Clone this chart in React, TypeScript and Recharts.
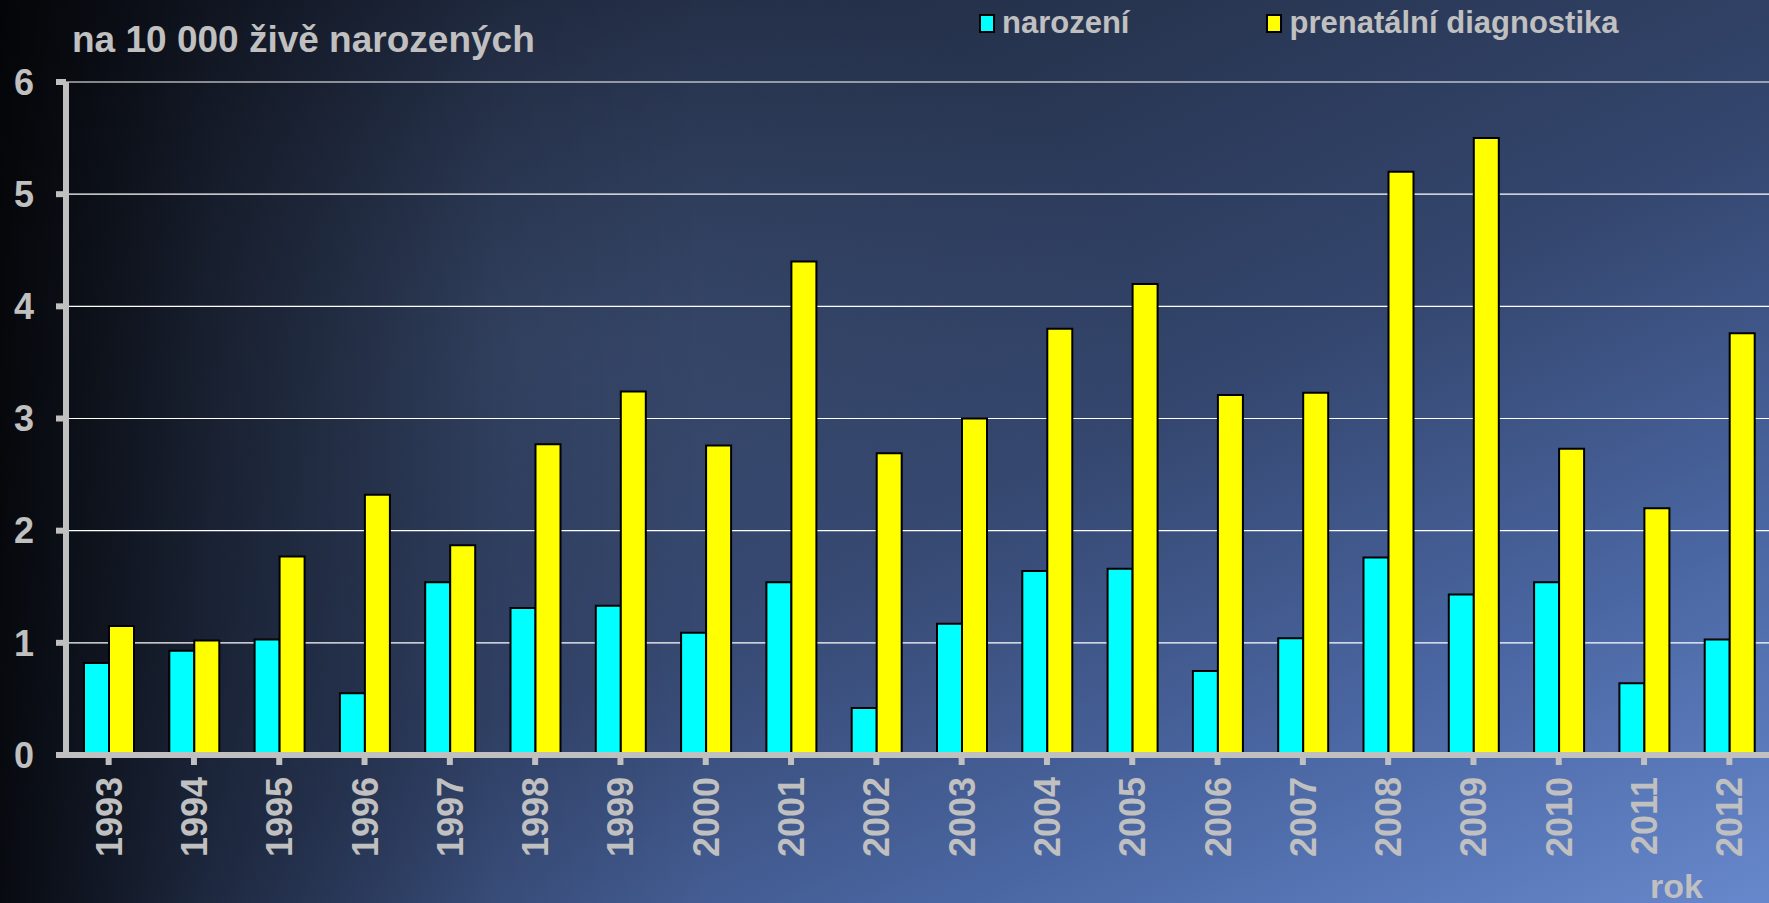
import React from 'react';
import { BarChart, Bar, XAxis, YAxis, CartesianGrid } from 'recharts';

const years = [
  '1993', '1994', '1995', '1996', '1997', '1998', '1999', '2000', '2001', '2002',
  '2003', '2004', '2005', '2006', '2007', '2008', '2009', '2010', '2011', '2012',
];
const narozeni = [
  0.82, 0.93, 1.03, 0.55, 1.54, 1.31, 1.33, 1.09, 1.54, 0.42,
  1.17, 1.64, 1.66, 0.75, 1.04, 1.76, 1.43, 1.54, 0.64, 1.03,
];
const prenatalni = [
  1.15, 1.02, 1.77, 2.32, 1.87, 2.77, 3.24, 2.76, 4.40, 2.69,
  3.00, 3.80, 4.20, 3.21, 3.23, 5.20, 5.50, 2.73, 2.20, 3.76,
];
const yTicks = [0, 1, 2, 3, 4, 5, 6];

const data = years.map((rok, i) => ({
  rok,
  narozeni: narozeni[i],
  prenatalni: prenatalni[i],
}));

const GREY = '#c0c0c0';
const FONT = '"Liberation Sans", Arial, sans-serif';

const YearTick = (props: any) => {
  const { x, y, payload } = props;
  return (
    <text
      x={x}
      y={y}
      dy="0.36em"
      transform={`rotate(-90, ${x}, ${y})`}
      textAnchor="end"
      fill={GREY}
      fontSize={36}
      fontWeight="bold"
      fontFamily={FONT}
    >
      {payload.value}
    </text>
  );
};

const App: React.FC = () => {
  return (
    <div
      style={{
        position: 'fixed',
        left: 0,
        top: 0,
        width: 1769,
        height: 903,
        overflow: 'hidden',
        fontFamily: FONT,
        background:
          'linear-gradient(to right, rgba(0,0,0,0.85) 0%, rgba(0,0,0,0.45) 12%, rgba(0,0,0,0.1) 28%, rgba(0,0,0,0) 40%),' +
          'radial-gradient(ellipse 35% 45% at 30% 38%, rgba(70,90,130,0.45) 0%, rgba(70,90,130,0) 100%),' +
          'linear-gradient(155deg, #1a2134 0%, #27344f 30%, #34466e 55%, #4a66a2 78%, #6788cc 100%)',
      }}
    >
      <div
        style={{
          position: 'absolute',
          left: 72,
          top: 18,
          color: GREY,
          fontSize: 37,
          fontWeight: 'bold',
          lineHeight: '44px',
        }}
      >
        na 10 000 živě narozených
      </div>
      <div style={{ position: 'absolute', left: 979, top: 5, display: 'flex', alignItems: 'center', color: GREY, fontSize: 31, fontWeight: 'bold', lineHeight: '36px' }}>
        <span style={{ width: 12, height: 15, background: '#00ffff', border: '2px solid #000', marginRight: 7 }} />
        <span>narození</span>
        <span style={{ width: 12, height: 15, background: '#ffff00', border: '2px solid #000', marginLeft: 137, marginRight: 7 }} />
        <span>prenatální diagnostika</span>
      </div>
      <div
        style={{
          position: 'absolute',
          left: 1650,
          top: 866,
          color: GREY,
          fontSize: 34,
          fontWeight: 'bold',
          lineHeight: '40px',
        }}
      >
        rok
      </div>
      <div style={{ position: 'absolute', left: 0, top: 0 }}>
        <BarChart
          width={1772}
          height={903}
          data={data}
          margin={{ top: 82, right: 0, bottom: 0, left: 0 }}
          barGap={0}
          barCategoryGap={18}
        >
          <CartesianGrid vertical={false} stroke="#ffffff" strokeWidth={1.2} />
          <XAxis
            dataKey="rok"
            height={148}
            axisLine={{ stroke: GREY, strokeWidth: 6 }}
            tickLine={{ stroke: GREY, strokeWidth: 6 }}
            tickSize={10}
            tick={<YearTick />}
            tickMargin={12}
            interval={0}
          />
          <YAxis
            width={66}
            domain={[0, 6]}
            ticks={yTicks}
            interval={0}
            axisLine={{ stroke: GREY, strokeWidth: 6 }}
            tickLine={{ stroke: GREY, strokeWidth: 6 }}
            tickSize={10}
            tickMargin={22}
            tick={{ fill: GREY, fontSize: 36, fontWeight: 'bold', fontFamily: FONT }}
          />
          <Bar dataKey="narozeni" fill="#00ffff" stroke="#000000" strokeWidth={2} isAnimationActive={false} />
          <Bar dataKey="prenatalni" fill="#ffff00" stroke="#000000" strokeWidth={2} isAnimationActive={false} />
        </BarChart>
      </div>
    </div>
  );
};

export default App;
